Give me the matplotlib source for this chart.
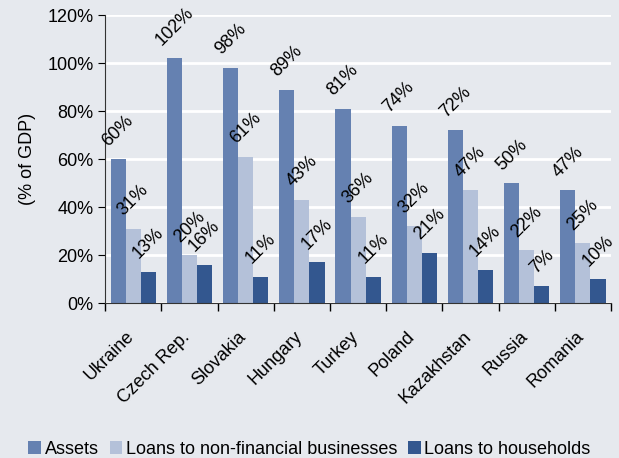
import numpy as np
import matplotlib.pyplot as plt

plt.rcParams['font.family'] = ['Liberation Sans', 'DejaVu Sans']

# banking sector size by country, % of GDP
countries = ["Ukraine", "Czech Rep.", "Slovakia", "Hungary", "Turkey",
             "Poland", "Kazakhstan", "Russia", "Romania"]
assets = [60, 102, 98, 89, 81, 74, 72, 50, 47]
loans_business = [31, 20, 61, 43, 36, 32, 47, 22, 25]
loans_households = [13, 16, 11, 17, 11, 21, 14, 7, 10]

series = [
    ("Assets", assets, "#6581b1"),
    ("Loans to non-financial businesses", loans_business, "#b4c1d9"),
    ("Loans to households", loans_households, "#33578f"),
]

bg = "#e6e9ee"
fs = 13
fig = plt.figure(figsize=(6.19, 4.58), dpi=100, facecolor=bg)
ax = fig.add_axes([0.170, 0.338, 0.817, 0.629])
ax.set_facecolor(bg)

x = np.arange(len(countries))
w = 0.27
for i, (name, vals, col) in enumerate(series):
    pos = x + (i - 1) * w
    ax.bar(pos, vals, width=w, color=col, label=name, zorder=2)
    for px, v in zip(pos, vals):
        ax.annotate(f"{v}%", (px, v), xytext=(0, 7), textcoords="offset points",
                    ha="center", va="bottom", rotation=45, fontsize=fs, zorder=3)

ax.set_ylim(0, 120)
ax.set_yticks(range(0, 121, 20))
ax.set_yticklabels([f"{t}%" for t in range(0, 121, 20)], fontsize=fs)
ax.yaxis.grid(True, color="white", linewidth=2, zorder=0)
ax.set_axisbelow(True)
ax.set_ylabel("(% of GDP)", fontsize=fs, labelpad=8)

# country names sit between the group ticks, rotated
ax.set_xlim(-0.5, len(countries) - 0.5)
ax.set_xticks(x - 0.14)
ax.set_xticklabels(countries, rotation=45, ha="right", rotation_mode="anchor", fontsize=fs)
ax.tick_params(axis="x", length=0, pad=18)
ax.set_xticks(np.arange(-0.5, len(countries), 1), minor=True)
ax.tick_params(axis="x", which="minor", length=6, width=1, direction="out")
ax.tick_params(axis="y", length=5, direction="out")

for s in ["top", "right"]:
    ax.spines[s].set_visible(False)
for s in ["left", "bottom"]:
    ax.spines[s].set_color("#333333")

fig.legend(loc="lower center", bbox_to_anchor=(0.5, -0.035), ncol=3, frameon=False,
           fontsize=fs, handlelength=0.7, handleheight=0.7, handletextpad=0.2,
           columnspacing=0.6)

fig.savefig("out.png", dpi=100, facecolor=bg)
